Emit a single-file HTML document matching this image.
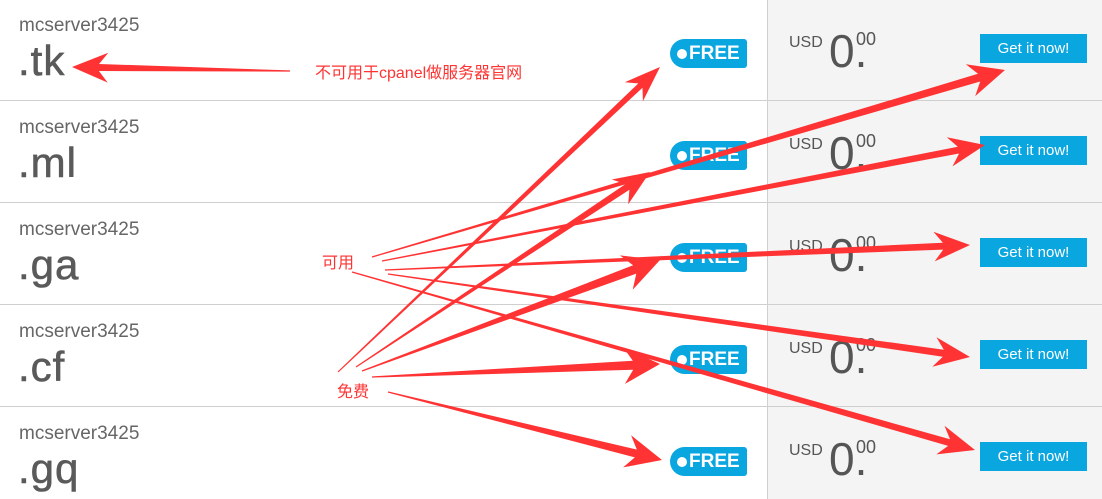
<!DOCTYPE html>
<html><head><meta charset="utf-8"><style>
body{margin:0;width:1102px;height:499px;overflow:hidden;background:#fff;font-family:"Liberation Sans","Noto Sans CJK SC",sans-serif;position:relative}
.panel{position:absolute;left:767px;top:0;width:335px;height:499px;background:#f4f4f4;border-left:1px solid #d0d0d0}
.sep{position:absolute;left:0;width:1102px;height:1px;background:#cfcfcf}
.name{position:absolute;left:19px;font-size:19px;color:#666}
.tld{position:absolute;left:18px;font-size:42px;color:#5a5a5a;letter-spacing:1px;-webkit-text-stroke:0.6px #5a5a5a}
.free{position:absolute;left:670px;width:77px;height:29px;background:#0aa6e0;border-radius:15px 3px 3px 15px;color:#fff;font-size:19px;font-weight:bold;line-height:29px}
.free:before{content:"";position:absolute;left:7px;top:10px;width:10px;height:10px;border-radius:50%;background:#fff}
.free span{position:absolute;left:19px}
.usd{position:absolute;left:789px;font-size:16px;color:#555}
.zero{position:absolute;left:829px;font-size:46px;color:#555}
.cents{position:absolute;left:856px;font-size:18px;color:#555}
.btn{position:absolute;left:980px;width:107px;height:29px;background:#0aa6e0;color:#fff;font-size:15px;line-height:29px;text-align:center}
.lbl{position:absolute;color:#f33;font-size:16px}
</style></head><body>
<div class="panel"></div>
<div class="sep" style="top:100px"></div><div class="sep" style="top:202px"></div><div class="sep" style="top:304px"></div><div class="sep" style="top:406px"></div>
<div id="rows"></div>
<div class="lbl" style="left:315px;top:59px">不可用于cpanel做服务器官网</div>
<div class="lbl" style="left:322px;top:249px">可用</div>
<div class="lbl" style="left:337px;top:378px">免费</div>
<svg id="s" width="1102" height="499" style="position:absolute;left:0;top:0"></svg>
<script>
var tl=['.tk','.ml','.ga','.cf','.gq'],h='';
for(var i=0;i<5;i++){var o=i*102;
h+='<div class="name" style="top:'+(15+o)+'px">mcserver3425</div><div class="tld" style="top:'+(37+o)+'px">'+tl[i]+'</div>';
h+='<div class="free" style="top:'+(39+o)+'px"><span>FREE</span></div>';
h+='<div class="usd" style="top:'+(34+o)+'px">USD</div><div class="zero" style="top:'+(24+o)+'px">0.</div><div class="cents" style="top:'+(29+o)+'px">00</div>';
h+='<div class="btn" style="top:'+(34+o)+'px">Get it now!</div>';}
document.getElementById('rows').innerHTML=h;
var A=[[290,71,72,67,7],[338,372,660,67,6],[356,367,650,172,7],[362,371,660,260,9],[372,377,660,364,9],[388,392,662,460,8],
[372,257,1005,70,8],[382,261,985,145,7],[385,270,970,245,7],[388,274,970,357,7],[352,272,975,450,7]];
var p='';A.forEach(function(a){var x1=a[0],y1=a[1],x2=a[2],y2=a[3],w=a[4];var dx=x2-x1,dy=y2-y1,L=Math.hypot(dx,dy),ux=dx/L,uy=dy/L,nx=-uy,ny=ux;
var hl=36,hw=w*1.7+3,bx=x2-ux*hl,by=y2-uy*hl,nb=x2-ux*(hl-9),nby=y2-uy*(hl-9);
var pts=[[x1+nx*0.6,y1+ny*0.6],[nb+nx*w/2,nby+ny*w/2],[bx+nx*hw,by+ny*hw],[x2,y2],[bx-nx*hw,by-ny*hw],[nb-nx*w/2,nby-ny*w/2],[x1-nx*0.6,y1-ny*0.6]];
p+='<polygon fill="#f33" points="'+pts.map(function(q){return q[0].toFixed(1)+','+q[1].toFixed(1)}).join(' ')+'"/>';});
document.getElementById('s').innerHTML=p;
</script>
</body></html>
